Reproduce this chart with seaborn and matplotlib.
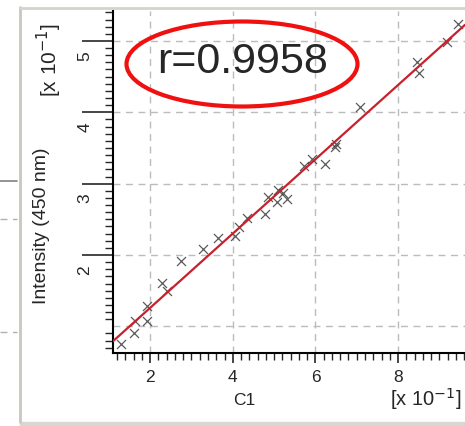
import numpy as np
import pandas as pd
import matplotlib
matplotlib.use('Agg')
import matplotlib.pyplot as plt
import matplotlib.transforms as mtransforms
from matplotlib.patches import Ellipse, Rectangle
from matplotlib.lines import Line2D
from matplotlib.ticker import FuncFormatter, MultipleLocator, FixedLocator
import seaborn as sns

c1 = [0.129, 0.161, 0.164, 0.193, 0.193, 0.229, 0.241, 0.274, 0.328, 0.365,
      0.406, 0.415, 0.435, 0.478, 0.486, 0.507, 0.510, 0.522, 0.531, 0.573,
      0.592, 0.624, 0.648, 0.650, 0.708, 0.846, 0.851, 0.919, 0.945]
intensity = [0.075, 0.091, 0.107, 0.107, 0.128, 0.161, 0.150, 0.192, 0.208, 0.224,
             0.227, 0.239, 0.252, 0.257, 0.281, 0.274, 0.291, 0.287, 0.279, 0.325,
             0.335, 0.328, 0.351, 0.356, 0.407, 0.471, 0.455, 0.499, 0.524]
r_text = 'r=0.9958'
x_major = [0.2, 0.4, 0.6, 0.8]
y_major = [0.1, 0.2, 0.3, 0.4, 0.5]

df = pd.DataFrame({'C1': c1, 'Intensity': intensity})

sns.set_style('white')
plt.rcParams['font.family'] = ['Liberation Sans', 'DejaVu Sans']

W, H = 465, 427
fig = plt.figure(figsize=(W / 100, H / 100), dpi=100)
fig.patch.set_facecolor('white')

ax = fig.add_axes([113 / W, 73 / H, (W - 113) / W, (354 - 12) / H])
ax.set_xlim(0.11, 0.962)
ax.set_ylim(0.0626, 0.542)

sns.regplot(data=df, x='C1', y='Intensity', ax=ax, ci=None, truncate=False,
            marker='x',
            scatter_kws={'color': '#303030', 's': 42, 'linewidths': 0.9, 'zorder': 3},
            line_kws={'color': '#c8202c', 'lw': 1.6, 'zorder': 4})

ax.set_xlabel('')
ax.set_ylabel('')

# ticks
ax.xaxis.set_major_locator(FixedLocator(x_major))
ax.xaxis.set_minor_locator(MultipleLocator(0.02))
ax.yaxis.set_major_locator(FixedLocator(y_major))
ax.yaxis.set_minor_locator(MultipleLocator(0.01))
fmt = FuncFormatter(lambda v, p: f'{v * 10:g}')
ax.xaxis.set_major_formatter(fmt)
ax.yaxis.set_major_formatter(fmt)

ax.tick_params(axis='x', which='major', direction='out', length=7.5, width=1.2,
               labelsize=12.5, pad=4, bottom=True)
ax.tick_params(axis='x', which='minor', direction='out', length=5, width=1.0, bottom=True)
ax.tick_params(axis='y', which='major', direction='out', length=22, width=1.2,
               labelsize=12.5, pad=-7, left=True)
ax.tick_params(axis='y', which='minor', direction='out', length=6, width=1.0, left=True)

for lab in ax.get_yticklabels():
    lab.set_rotation(90)
    lab.set_va('center')
    lab.set_transform(lab.get_transform() +
                      mtransforms.ScaledTranslation(0, -14 / 100, fig.dpi_scale_trans))

# hide tick + label at 1 (only the grid line remains there)
yt = ax.yaxis.get_major_ticks()
yt[0].tick1line.set_visible(False)
yt[0].label1.set_visible(False)

ax.grid(True, which='major', color='#bcbcbc', linestyle=(0, (5, 4)), lw=1.0)
ax.set_axisbelow(True)

for s in ['top', 'right']:
    ax.spines[s].set_visible(False)
for s in ['left', 'bottom']:
    ax.spines[s].set_color('black')
    ax.spines[s].set_linewidth(1.5)

# axis titles
fig.text(244 / W, 1 - 401 / H, 'C1', ha='center', va='center', fontsize=12.5)
fig.text(426 / W, 1 - 399 / H, r'[x 10$^{-1}$]', ha='center', va='center', fontsize=14.5)
fig.text(42 / W, 1 - 226 / H, 'Intensity (450 nm)', rotation=90,
         ha='center', va='center', fontsize=14)
fig.text(49 / W, 1 - 60 / H, r'[x 10$^{-1}$]', rotation=90,
         ha='center', va='center', fontsize=15)

# r annotation with ellipse
fig.text(243 / W, 1 - 62 / H, r_text, ha='center', va='center', fontsize=31)
fig.add_artist(Ellipse((242 / W, 1 - 65 / H), 231 / W, 85 / H, fill=False,
                       edgecolor='#f01010', lw=3, transform=fig.transFigure))

# window frame
fig.add_artist(Line2D([20 / W, 20 / W], [1 - 423 / H, 1 - 8 / H], color='#c8c8c0', lw=2,
                      transform=fig.transFigure))
fig.add_artist(Line2D([20 / W, 1], [1 - 9 / H, 1 - 9 / H], color='#d4d4cc', lw=2,
                      transform=fig.transFigure))
fig.add_artist(Rectangle((20 / W, 0), 1, 4 / H, color='#d8d8d0',
                         transform=fig.transFigure))
# remnants of neighbouring chart
fig.add_artist(Line2D([0, 17 / W], [1 - 182 / H] * 2, color='#808080', lw=1.2,
                      transform=fig.transFigure))
for yy in [220, 333]:
    fig.add_artist(Line2D([0, 17 / W], [1 - yy / H] * 2, color='#b0b0b0', lw=1,
                          linestyle=(0, (5, 4)), transform=fig.transFigure))

fig.savefig('out.png', dpi=100)
